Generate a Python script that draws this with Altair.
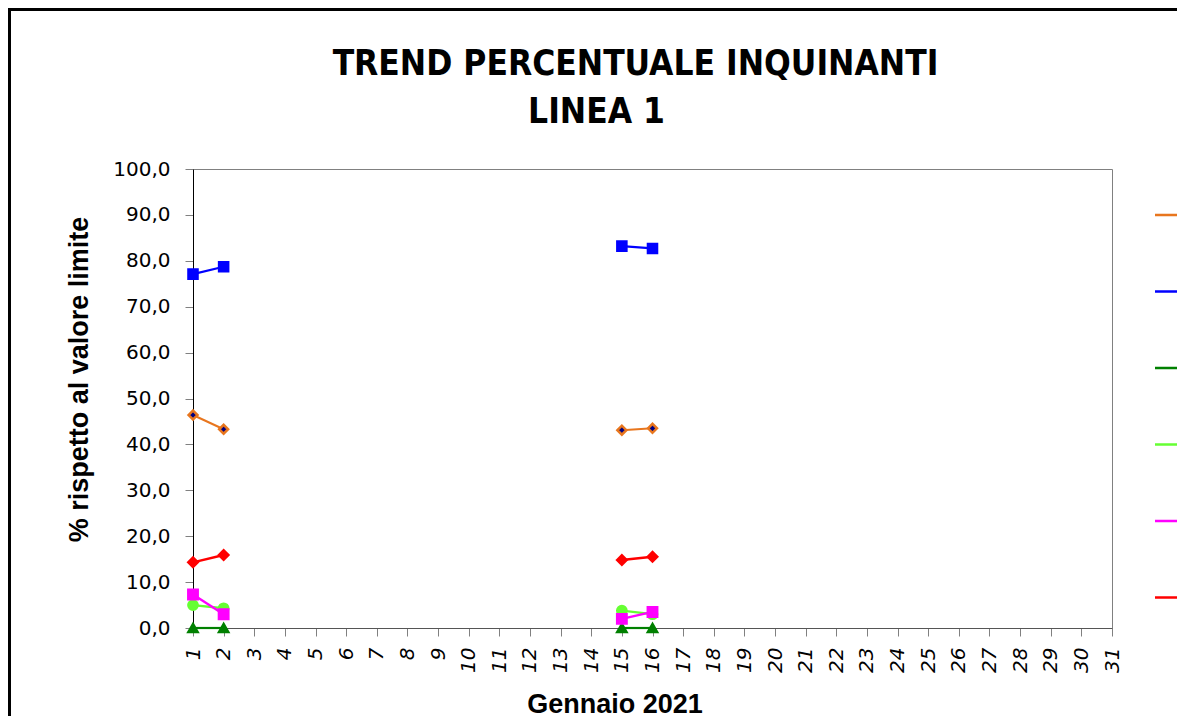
import altair as alt
import pandas as pd

# ---- data ----
days = [1, 2, 15, 16]
segments = ["a", "a", "b", "b"]
series_names = ["CO", "NOx", "HF", "SO2", "HCl", "Polveri"]
v_orange = [46.4, 43.3, 43.1, 43.5]
v_blue = [77.1, 78.7, 83.2, 82.7]
v_dgreen = [0.0, 0.0, 0.0, 0.0]
v_lgreen = [5.0, 4.3, 3.8, 3.0]
v_magenta = [7.3, 3.0, 2.0, 3.5]
v_red = [14.3, 15.9, 14.8, 15.5]
all_values = [v_orange, v_blue, v_dgreen, v_lgreen, v_magenta, v_red]

x_ticks = list(range(1, 32))
y_ticks = list(range(0, 101, 10))
title_lines = ["TREND PERCENTUALE INQUINANTI", "LINEA 1"]

# ---- styles ----
line_colors = ["#E8761E", "#0000FF", "#008000", "#66FF33", "#FF00FF", "#FF0000"]
marker_fills = ["#000080", "#0000FF", "#008000", "#66FF33", "#FF00FF", "#FF0000"]
marker_strokes = ["#E8761E", "#0000FF", "#008000", "#66FF33", "#FF00FF", "#FF0000"]
marker_shapes = ["diamond", "square", "triangle-up", "circle", "square", "diamond"]
marker_sizes = [80, 90, 100, 100, 90, 120]
line_widths = [2, 2.5, 3, 5, 3, 4]

# legend symbols: a line with the marker in its middle (unit coordinates)
LINE = "M-1,0H1"
legend_paths = [
    LINE + "M-0.17,0L0,-0.17L0.17,0L0,0.17Z",
    LINE + "M-0.17,-0.17H0.17V0.17H-0.17Z",
    LINE + "M0,-0.2L0.2,0.15H-0.2Z",
    LINE + "M0.17,0A0.17,0.17,0,1,1,-0.17,0A0.17,0.17,0,1,1,0.17,0Z",
    LINE + "M-0.17,-0.17H0.17V0.17H-0.17Z",
    LINE + "M-0.2,0L0,-0.2L0.2,0L0,0.2Z",
]

rows = []
for name, vals in zip(series_names, all_values):
    for d, s, v in zip(days, segments, vals):
        rows.append({"giorno": d, "valore": v, "serie": name, "tratto": s})
df = pd.DataFrame(rows)

FONT_TICK = "DejaVu Sans"
FONT_TITLE = "Liberation Sans"

x_enc = alt.X(
    "giorno:Q",
    scale=alt.Scale(domain=[1, 31], nice=False, zero=False),
    axis=alt.Axis(
        values=x_ticks, tickCount=31, title="Gennaio 2021", grid=False,
        labelAngle=270, labelFont=FONT_TICK, labelFontSize=20, labelFontStyle="italic",
        labelColor="black", labelPadding=11, labelAlign="right", labelBaseline="middle",
        tickSize=8, tickColor="#808080", domainColor="#555555",
        titleFont=FONT_TITLE, titleFontSize=27, titleFontWeight="bold", titleColor="black",
        titleX=421.5, titleY=84, titleAlign="center", titleBaseline="alphabetic",
        labelOverlap=False, labelFlush=False,
    ),
)
y_enc = alt.Y(
    "valore:Q",
    scale=alt.Scale(domain=[0, 100], nice=False, zero=True),
    axis=alt.Axis(
        values=y_ticks, title="% rispetto al valore limite", grid=False,
        labelExpr="replace(format(datum.value, '.1f'), '.', ',')",
        labelFont=FONT_TICK, labelFontSize=20, labelColor="black", labelPadding=15,
        tickSize=8, tickColor="#808080", domainColor="black",
        titleFont=FONT_TITLE, titleFontSize=27, titleFontWeight="bold", titleColor="black",
        titleAngle=270, titleX=-106, titleY=210, titleAlign="center", titleBaseline="alphabetic",
        labelOverlap=False, labelFlush=False,
    ),
)

lines = alt.Chart(df).mark_line(clip=False).encode(
    x=x_enc,
    y=y_enc,
    color=alt.Color("serie:N", scale=alt.Scale(domain=series_names, range=line_colors), legend=None),
    strokeWidth=alt.StrokeWidth("serie:N", scale=alt.Scale(domain=series_names, range=line_widths), legend=None),
    detail="tratto:N",
)

points = alt.Chart(df).mark_point(filled=True, opacity=1, strokeWidth=2.5, clip=False).encode(
    x=x_enc,
    y=y_enc,
    fill=alt.Fill("serie:N", scale=alt.Scale(domain=series_names, range=marker_fills), legend=None),
    stroke=alt.Stroke("serie:N", scale=alt.Scale(domain=series_names, range=marker_strokes), legend=None),
    shape=alt.Shape("serie:N", scale=alt.Scale(domain=series_names, range=marker_shapes), legend=None),
    size=alt.Size("serie:N", scale=alt.Scale(domain=series_names, range=marker_sizes), legend=None),
)

legend_props = alt.Legend(
    title=None, orient="none", legendX=960.5, legendY=14.5, direction="vertical",
    symbolSize=3600, symbolStrokeWidth=2.5, symbolOpacity=1,
    labelFont=FONT_TICK, labelFontSize=20, rowPadding=34.5, padding=0,
)
legend_layer = alt.Chart(df).transform_filter("false").mark_point(filled=True, opacity=1).encode(
    fill=alt.Fill("serie:N", scale=alt.Scale(domain=series_names, range=marker_fills), legend=legend_props),
    stroke=alt.Stroke("serie:N", scale=alt.Scale(domain=series_names, range=marker_strokes), legend=legend_props),
    shape=alt.Shape("serie:N", scale=alt.Scale(domain=series_names, range=legend_paths), legend=legend_props),
)

# outer chart border (top and left edges; the others fall outside the picture)
frame_df = pd.DataFrame({"k": [0]})
frame_top = alt.Chart(frame_df).mark_rule(stroke="black", strokeWidth=3, clip=False).encode(
    x=alt.value(-183.5), x2=alt.value(984), y=alt.value(-159.5)
)
frame_left = alt.Chart(frame_df).mark_rule(stroke="black", strokeWidth=3, clip=False).encode(
    x=alt.value(-183.5), y=alt.value(-161), y2=alt.value(547)
)

title_df = pd.DataFrame({"t": title_lines})
title1 = alt.Chart(title_df).transform_filter(alt.datum.t == title_lines[0]).mark_text(
    font="DejaVu Sans Condensed", fontSize=35, fontWeight="bold", align="center",
    baseline="alphabetic", color="black", clip=False
).encode(text="t:N", x=alt.value(442.5), y=alt.value(-94))
title2 = alt.Chart(title_df).transform_filter(alt.datum.t == title_lines[1]).mark_text(
    font="DejaVu Sans Condensed", fontSize=35, fontWeight="bold", align="center",
    baseline="alphabetic", color="black", clip=False
).encode(text="t:N", x=alt.value(403.5), y=alt.value(-46))

chart = alt.layer(frame_top, frame_left, lines, points, legend_layer, title1, title2).resolve_scale(
    size="independent", strokeWidth="independent", shape="independent",
    fill="independent", stroke="independent",
).resolve_legend(
    shape="independent", fill="independent", stroke="independent",
).properties(
    width=919,
    height=459,
    autosize=alt.AutoSizeParams(type="none"),
    padding={"left": 185, "top": 161, "right": 65, "bottom": 88},
    background="white",
).configure_view(stroke="#808080", strokeWidth=1)

chart.save("out.html", embed_options={"renderer": "svg", "actions": False})
